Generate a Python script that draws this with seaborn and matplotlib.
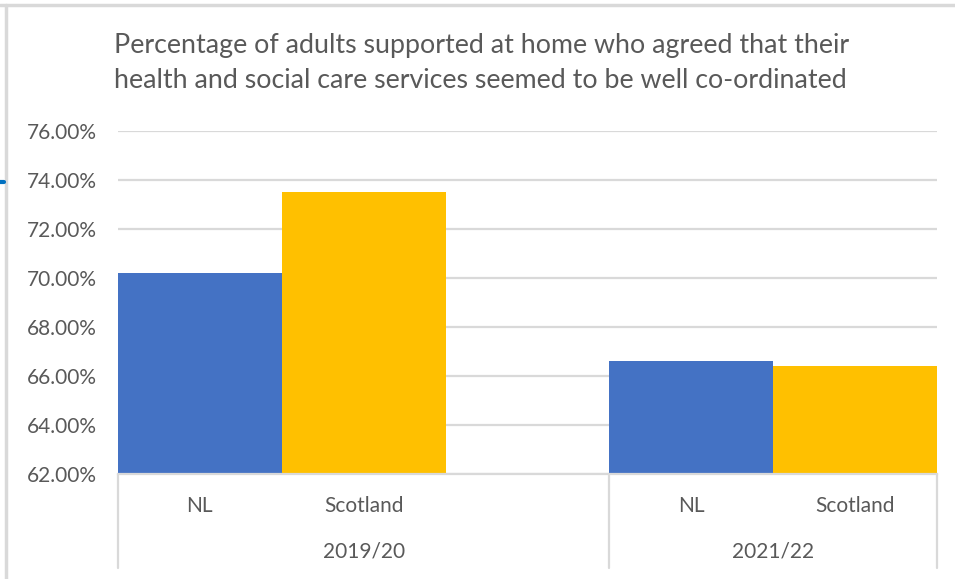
import matplotlib
matplotlib.use("Agg")
import matplotlib.pyplot as plt
import matplotlib.transforms as mtransforms
from matplotlib.lines import Line2D
import pandas as pd
import seaborn as sns

# Data
periods = ["2019/20", "2021/22"]
areas = ["NL", "Scotland"]
nl_values = [70.2, 66.6]
scotland_values = [73.5, 66.4]
y_ticks = [62, 64, 66, 68, 70, 72, 74, 76]
title = ("Percentage of adults supported at home who agreed that their\n"
         "health and social care services seemed to be well co-ordinated")

colors = {"NL": "#4472C4", "Scotland": "#FFC000"}
text_color = "#595959"
grid_color = "#D9D9D9"

# Bar slots: each period occupies a block, bars sit side by side within it
period_start = [0, 3]
period_end = [3, 5]
rows = []
for gi, period in enumerate(periods):
    for si, (area, vals) in enumerate(zip(areas, [nl_values, scotland_values])):
        rows.append({"period": period, "area": area, "value": vals[gi],
                     "pos": period_start[gi] + si + 0.5})
df = pd.DataFrame(rows)

sns.set_theme(style="white")
plt.rcParams["font.family"] = ["Lato", "DejaVu Sans"]

fig = plt.figure(figsize=(9.55, 5.79), dpi=100)
ax = fig.add_axes([118 / 955, 1 - 474 / 579, (937 - 118) / 955, (474 - 131) / 579])

sns.barplot(data=df, x="pos", y="value", hue="area", palette=colors,
            native_scale=True, dodge=False, width=1.0, legend=False,
            saturation=1, linewidth=0, ax=ax)

ax.set_xlim(0, 5)
ax.set_ylim(62, 76)
ax.set_yticks(y_ticks)
ax.set_yticklabels([f"{t:.2f}%" for t in y_ticks], color=text_color, fontsize=15)
ax.set_xticks([])
ax.set_xlabel("")
ax.set_ylabel("")
ax.tick_params(axis="y", length=0, pad=15)
ax.yaxis.grid(True, color=grid_color, linewidth=1.6)
ax.set_axisbelow(True)
for side in ["top", "right", "left"]:
    ax.spines[side].set_visible(False)
ax.spines["bottom"].set_color(grid_color)
ax.spines["bottom"].set_linewidth(1.6)

# Two-level category axis
trans = mtransforms.blended_transform_factory(ax.transData, ax.transAxes)
box_bottom = -(568 - 474) / (474 - 131)
for xb in [0, 3, 5]:
    ax.add_line(Line2D([xb, xb], [0, box_bottom], transform=trans,
                       color=grid_color, linewidth=1.6, clip_on=False))
for _, r in df.iterrows():
    ax.text(r["pos"], -(506 - 474) / 343, r["area"], transform=trans,
            ha="center", va="center", color=text_color, fontsize=15)
for gi, period in enumerate(periods):
    ax.text((period_start[gi] + period_end[gi]) / 2, -(551 - 474) / 343, period,
            transform=trans, ha="center", va="center", color=text_color, fontsize=15)

fig.text(114 / 955, 1 - 63 / 579, title, ha="left", va="center",
         color=text_color, fontsize=19.3, linespacing=1.55)

# Frame edges along top and left
fig.add_artist(Line2D([0, 1], [1 - 5 / 579, 1 - 5 / 579], transform=fig.transFigure,
                      color="#D9D9D9", linewidth=2.5))
fig.add_artist(Line2D([6 / 955, 6 / 955], [0, 1 - 5 / 579], transform=fig.transFigure,
                      color="#D9D9D9", linewidth=2.5))
fig.add_artist(Line2D([0, 4 / 955], [1 - 182 / 579, 1 - 182 / 579],
                      transform=fig.transFigure, color="#0070C0", linewidth=3))

fig.savefig("out.png", dpi=100, facecolor="white")
